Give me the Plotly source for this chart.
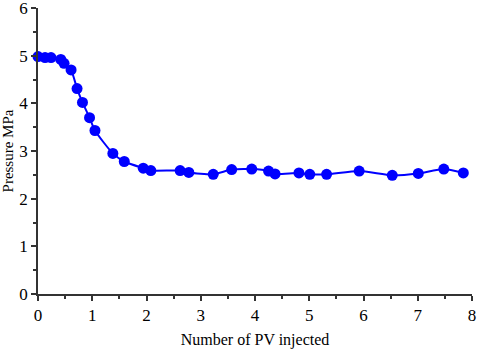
import plotly.graph_objects as go

pv = [0.0, 0.13, 0.24, 0.42, 0.48, 0.61, 0.72, 0.82, 0.95, 1.05,
      1.38, 1.59, 1.94, 2.08, 2.62, 2.78, 3.23, 3.57, 3.94, 4.25, 4.37,
      4.81, 5.01, 5.32, 5.92, 6.53, 7.01, 7.48, 7.84]
pressure = [4.98, 4.96, 4.96, 4.92, 4.84, 4.70, 4.31, 4.02, 3.70, 3.43,
            2.95, 2.78, 2.64, 2.59, 2.59, 2.55, 2.51, 2.61, 2.62, 2.58, 2.52,
            2.54, 2.51, 2.51, 2.58, 2.49, 2.53, 2.62, 2.54]

fig = go.Figure(go.Scatter(
    x=pv, y=pressure, mode="lines+markers",
    line=dict(color="#0000FF", width=2, shape="spline", smoothing=0.6),
    marker=dict(color="#0000FF", size=11),
    cliponaxis=False,
))

font = "Liberation Serif"
axis_common = dict(
    showline=True, linecolor="#333333", linewidth=1.5,
    ticks="outside", ticklen=5, tickwidth=1.5, tickcolor="#333333",
    showgrid=False, zeroline=False, mirror=False, automargin=False,
    ticklabeloverflow="allow",
    tickfont=dict(family=font, size=17, color="black"),
    minor=dict(ticks="outside", ticklen=3, tickwidth=1.5, tickcolor="#333333", dtick=0.5),
)

fig.update_layout(
    width=477, height=349,
    margin=dict(l=38, r=5, t=8, b=55),
    paper_bgcolor="white", plot_bgcolor="white",
    showlegend=False,
    xaxis=dict(range=[0, 8], dtick=1,
               title=dict(text="Number of PV injected", font=dict(family=font, size=16, color="black"), standoff=10),
               **axis_common),
    yaxis=dict(range=[0, 6], dtick=1,
               title=dict(text="Pressure MPa", font=dict(family=font, size=15, color="black"), standoff=6),
               **axis_common),
)

fig.write_html(
    "out.html",
    config={"displayModeBar": False},
    post_script="document.body.style.margin='0';document.body.style.overflow='hidden';",
)
